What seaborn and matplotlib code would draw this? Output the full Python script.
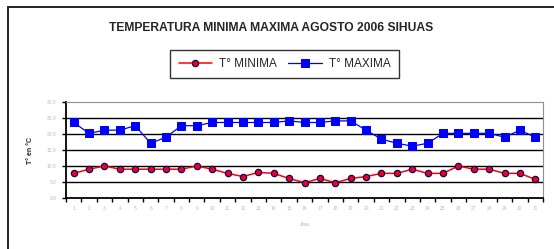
import pandas as pd
import numpy as np
import matplotlib
matplotlib.use('Agg')
import matplotlib.pyplot as plt
from matplotlib.patches import Rectangle
import seaborn as sns

# datos (agosto 2006, Sihuas)
dias = list(range(1, 32))
t_minima = [7.7, 9.0, 10.0, 9.0, 9.0, 9.0, 9.0, 9.0, 10.0, 9.0, 7.7, 6.7, 8.0, 7.7, 6.1, 4.8,
            6.1, 4.8, 6.1, 6.7, 7.7, 7.7, 9.0, 7.7, 7.7, 10.0, 9.0, 9.0, 7.7, 7.7, 5.8]
t_maxima = [23.6, 20.2, 21.2, 21.2, 22.6, 17.1, 19.0, 22.6, 22.6, 23.6, 23.6, 23.6, 23.6, 23.6, 24.1, 23.6,
            23.6, 24.1, 24.1, 21.2, 18.4, 17.1, 16.2, 17.1, 20.2, 20.2, 20.2, 20.2, 19.0, 21.2, 19.0]
y_ticks = [0, 5, 10, 15, 20, 25, 30]

df = pd.DataFrame({'dia': dias, 'min': t_minima, 'max': t_maxima})

sns.set_style('white')
plt.rcParams['font.family'] = ['Liberation Sans', 'DejaVu Sans']

fig = plt.figure(figsize=(5.54, 2.49), dpi=100)
ax = fig.add_axes([66/554, 1-198/249, 477/554, 96/249])

sns.lineplot(data=df, x='dia', y='max', ax=ax, color='#0000ff', lw=0.9, marker='s',
             markersize=6.3, markerfacecolor='#0000ff', markeredgecolor='#0000ff', label='T° MAXIMA')
sns.lineplot(data=df, x='dia', y='min', ax=ax, color='#ff0000', lw=1.1, marker='o',
             markersize=4.5, markerfacecolor='#ff0000', markeredgecolor='#000080', markeredgewidth=0.9,
             label='T° MINIMA')

ax.set_xlim(0.5, 31.5)
ax.set_ylim(0, 30)
ax.set_yticks(y_ticks)
ax.set_yticklabels([f'{v:.1f}' for v in y_ticks])
ax.set_xticks(dias)
ax.set_xticklabels([str(d) for d in dias])
ax.set_xticks(np.arange(0.5, 32, 1), minor=True)
ax.tick_params(axis='x', which='major', length=0, labelsize=3.5, labelcolor='#bbbbbb', pad=6)
ax.tick_params(axis='x', which='minor', length=3, width=1, color='black', direction='out', bottom=True)
ax.tick_params(axis='y', length=3, width=1, color='black', direction='out', left=True,
               labelsize=3.5, labelcolor='#bbbbbb', pad=4)
for y in y_ticks[1:-1]:
    ax.axhline(y, color='black', lw=1.0, zorder=0)
ax.spines['left'].set_color('black')
ax.spines['bottom'].set_color('black')
ax.spines['left'].set_linewidth(1.3)
ax.spines['bottom'].set_linewidth(1.3)
ax.spines['top'].set_color('#909090')
ax.spines['right'].set_color('#909090')
ax.set_xlabel('días', fontsize=4, color='#bbbbbb', labelpad=8)
ax.set_ylabel('')
fig.text(31/554, 1-150/249, 'T° en °C', rotation=90, fontsize=5, fontweight='bold',
         ha='center', va='center')

handles, labels = ax.get_legend_handles_labels()
leg = fig.legend(handles[::-1], labels[::-1], loc='center', bbox_to_anchor=(284.5/554, 1-64/249),
                 ncol=2, fontsize=8.5, frameon=True, fancybox=False, edgecolor='black',
                 handlelength=2.8, handletextpad=0.6, columnspacing=1.0, borderpad=0.7)
leg.get_frame().set_linewidth(1.0)
ax.get_legend().remove()

fig.text(271/554, 1-28/249, 'TEMPERATURA MINIMA MAXIMA AGOSTO 2006 SIHUAS', fontsize=8.7,
         fontweight='bold', ha='center', va='center')

# marco exterior del grafico
fig.patches.append(Rectangle((8/554, -0.1), 1.0, 1-7/249+0.1, transform=fig.transFigure,
                             fill=False, edgecolor='#222222', lw=1.4))

fig.savefig('out.png', dpi=100)
